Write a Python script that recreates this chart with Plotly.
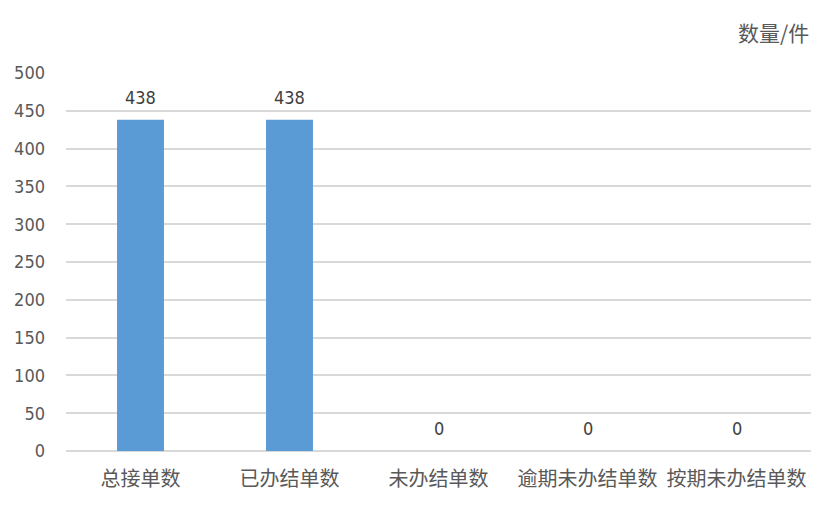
import plotly.graph_objects as go

categories = ["总接单数", "已办结单数", "未办结单数", "逾期未办结单数", "按期未办结单数"]
values = [438, 438, 0, 0, 0]
y_ticks = [0, 50, 100, 150, 200, 250, 300, 350, 400, 450, 500]
unit_label = "数量/件"

NUMFONT = "Liberation Sans Narrow, DejaVu Sans Condensed, Noto Sans CJK SC, sans-serif"
CJK = "Noto Sans CJK SC"

fig = go.Figure(go.Bar(
    x=categories, y=values,
    marker=dict(color="#5B9BD5", line=dict(width=0)),
    hoverinfo="skip",
))
for c, v in zip(categories, values):
    fig.add_annotation(x=c, y=v, text=str(v), showarrow=False, yanchor="bottom",
                       yshift=10, font=dict(size=18, color="#404040", family=NUMFONT))
fig.add_annotation(text=unit_label, xref="paper", yref="paper", x=1.0, y=1.0,
                   xanchor="right", yanchor="bottom", yshift=24, xshift=0, showarrow=False,
                   font=dict(size=21, color="#595959", family=CJK))
fig.update_layout(
    width=829, height=497,
    margin=dict(l=58, r=26, t=65, b=54, autoexpand=False),
    paper_bgcolor="white", plot_bgcolor="white",
    bargap=0.685,
    showlegend=False,
    font=dict(family=CJK, color="#595959"),
    xaxis=dict(showgrid=False, showline=False, ticks="", automargin=False,
               tickfont=dict(size=20, color="#595959", family=CJK),
               ticklabelstandoff=14),
    yaxis=dict(range=[0, 500], tickvals=y_ticks, showgrid=True, gridcolor="#D9D9D9",
               gridwidth=1.5, zeroline=True, zerolinecolor="#D9D9D9", zerolinewidth=1.5,
               showline=False, ticks="", automargin=False,
               tickfont=dict(size=18, color="#595959", family=NUMFONT),
               ticklabelstandoff=20),
)
fig.write_html("out.html")
